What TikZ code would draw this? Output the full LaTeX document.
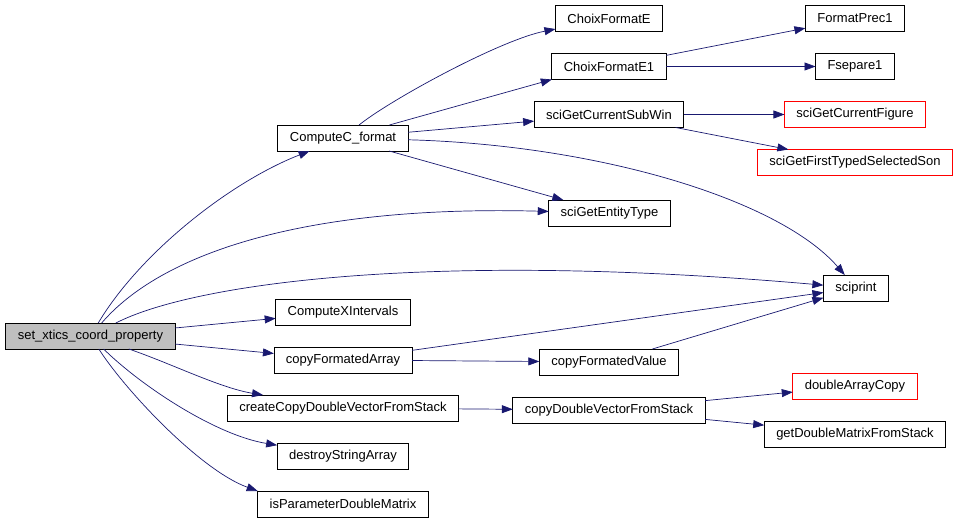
\documentclass[tikz,border=0pt]{standalone}
\usepackage{fontspec}
\setmainfont{Liberation Sans}
\usepackage{xcolor}
\usetikzlibrary{arrows.meta,positioning}
\definecolor{edgeblue}{HTML}{191970}

\begin{document}
\begin{tikzpicture}[x=1pt,y=-1pt,
node distance=22pt,
fn/.style={draw,line width=0.8pt,outer sep=0pt,minimum height=26pt,inner xsep=12pt,inner ysep=0pt,font=\fontsize{13}{15}\selectfont},
missing/.style={fn,draw=red},
rootfn/.style={fn,fill=gray!50},
arrow/.style={-{Triangle[length=11pt,width=8pt]},edgeblue,line width=0.7pt}]
\useasboundingbox (0,0) rectangle (959,519);
\node[rootfn] (stcp) at (90.5,336) {set\_xtics\_coord\_property};
\node[fn] (cc) at (343,138) {ComputeC\_format};
\node[fn] (cxi) at (343,312) {ComputeXIntervals};
\node[fn,below=of cxi] (cfa) {copyFormatedArray};
\node[fn,below=of cfa] (ccd) {createCopyDoubleVectorFromStack};
\node[fn,below=of ccd] (dsa) {destroyStringArray};
\node[fn,below=of dsa] (ipd) {isParameterDoubleMatrix};
\node[fn] (cfe) at (609,18.5) {ChoixFormatE};
\node[fn,below=of cfe] (cfe1) {ChoixFormatE1};
\node[fn,below=of cfe1] (sgcs) {sciGetCurrentSubWin};
\node[fn] (sget) at (609.5,213) {sciGetEntityType};
\node[fn] (cfv) at (609,362) {copyFormatedValue};
\node[fn,below=of cfv] (cdv) {copyDoubleVectorFromStack};
\node[fn] (fp1) at (855,18.5) {FormatPrec1};
\node[fn,below=of fp1] (fs1) {Fsepare1};
\node[missing,below=of fs1] (sgcf) {sciGetCurrentFigure};
\node[missing,below=of sgcf] (sgft) {sciGetFirstTypedSelectedSon};
\node[fn] (sp) at (856,288) {sciprint};
\node[missing] (dac) at (855,386) {doubleArrayCopy};
\node[fn,below=of dac] (gdm) {getDoubleMatrixFromStack};
\draw[arrow] (stcp) .. controls (140,253) and (230,182) .. (cc);
\draw[arrow] (stcp) .. controls (160,255) and (300,205) .. (sget);
\draw[arrow] (stcp) .. controls (190,285) and (420,250) .. (sp);
\draw[arrow] (stcp) -- (cxi);
\draw[arrow] (stcp) -- (cfa);
\draw[arrow] (stcp) .. controls (170,363) and (220,388) .. (ccd);
\draw[arrow] (stcp) .. controls (140,385) and (215,435) .. (dsa);
\draw[arrow] (stcp) .. controls (125,390) and (200,470) .. (ipd.north west);
\draw[arrow] (cc) .. controls (390,100) and (500,40) .. (cfe);
\draw[arrow] (cc) -- (cfe1.south west);
\draw[arrow] (cc) -- (sgcs);
\draw[arrow] (cc) -- (sget);
\draw[arrow] (cc) .. controls (600,145) and (780,200) .. (sp);
\draw[arrow] (cfe1) -- (fp1);
\draw[arrow] (cfe1) -- (fs1);
\draw[arrow] (sgcs) -- (sgcf);
\draw[arrow] (sgcs) -- (sgft);
\draw[arrow] (cfa) -- (sp);
\draw[arrow] (cfa) -- (cfv);
\draw[arrow] (cfv) -- (sp);
\draw[arrow] (ccd) -- (cdv);
\draw[arrow] (cdv) -- (dac);
\draw[arrow] (cdv) -- (gdm);
\end{tikzpicture}
\end{document}
